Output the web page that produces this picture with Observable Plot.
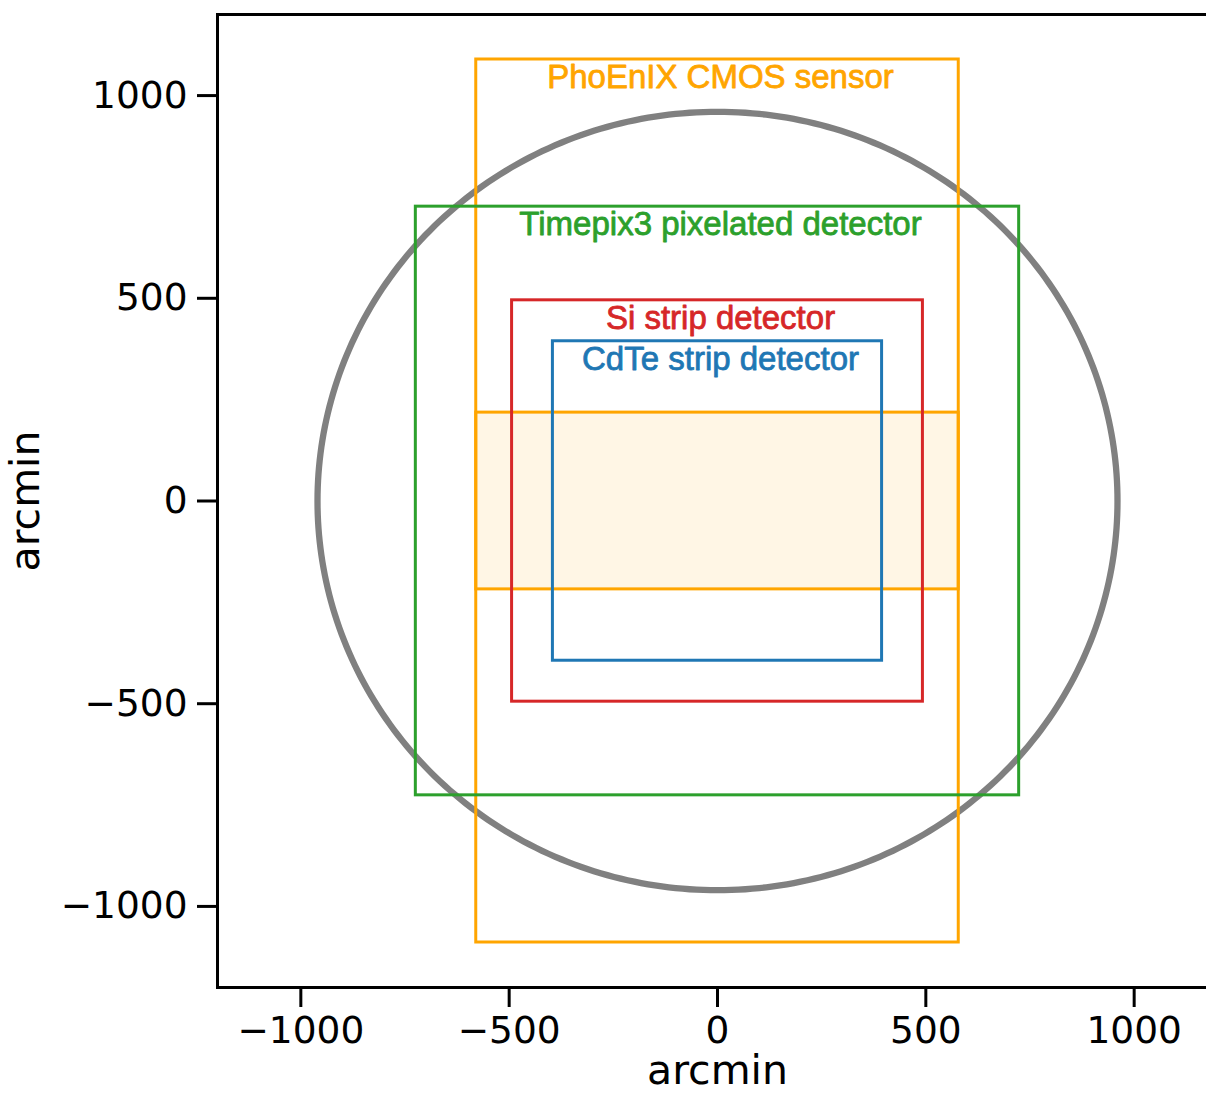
<!DOCTYPE html>
<html>
<head>
<meta charset="utf-8">
<script src="https://cdn.jsdelivr.net/npm/d3@7"></script>
<script src="https://cdn.jsdelivr.net/npm/@observablehq/plot@0.6"></script>
<style>
  html, body { margin: 0; padding: 0; background: white; overflow: hidden; }
</style>
</head>
<body>
<div id="chart"></div>
<script>
// ---- data ----
const xDomain = [-1200, 1200];
const yDomain = [-1200, 1200];
const xTicks = [-1000, -500, 0, 500, 1000];
const yTicks = [-1000, -500, 0, 500, 1000];
const axisLabel = "arcmin";

const sunRadius = 960; // arcmin, grey circle

const detectorNames = ["PhoEnIX CMOS sensor", "Timepix3 pixelated detector", "Si strip detector", "CdTe strip detector"];
const detectorHalfWidth = [579, 724, 493, 395];
const detectorHalfHeight = [1089, 726, 495, 394];
const detectorColors = ["#ffa500", "#2ca02c", "#d62728", "#1f77b4"];

const bandHalfWidth = 579;   // shaded CMOS readout band
const bandHalfHeight = 218;
const bandColor = "#ffa500";

// ---- derived tables ----
const detectors = detectorNames.map((name, i) => ({
  name,
  x1: -detectorHalfWidth[i], x2: detectorHalfWidth[i],
  y1: -detectorHalfHeight[i], y2: detectorHalfHeight[i],
  color: detectorColors[i]
}));
const band = [{x1: -bandHalfWidth, x2: bandHalfWidth, y1: -bandHalfHeight, y2: bandHalfHeight}];
const circle = d3.range(0, 361).map(a => ({
  x: sunRadius * Math.cos(a * Math.PI / 180),
  y: sunRadius * Math.sin(a * Math.PI / 180)
}));

const fmt = d => d < 0 ? "\u2212" + (-d) : String(d);

const chart = Plot.plot({
  width: 1206,
  height: 1094,
  marginLeft: 217,
  marginRight: -11,
  marginTop: 14,
  marginBottom: 107,
  style: {fontFamily: "DejaVu Sans", color: "black", background: "white"},
  x: {domain: xDomain},
  y: {domain: yDomain},
  color: {type: "identity"},
  marks: [
    Plot.line(circle, {x: "x", y: "y", stroke: "#808080", strokeWidth: 6.3}),
    Plot.rect(detectors.slice(0, 1), {x1: "x1", x2: "x2", y1: "y1", y2: "y2", stroke: "color", fill: "none", strokeWidth: 3}),
    Plot.rect(band, {x1: "x1", x2: "x2", y1: "y1", y2: "y2", fill: bandColor, fillOpacity: 0.1, stroke: bandColor, strokeWidth: 3}),
    Plot.rect(detectors.slice(1), {x1: "x1", x2: "x2", y1: "y1", y2: "y2", stroke: "color", fill: "none", strokeWidth: 3}),
    Plot.text(detectors, {
      x: d => (d.x1 + d.x2) / 2, y: "y2", text: "name", fill: "color", stroke: "color", strokeWidth: 0.8,
      dx: 3, dy: 18, lineAnchor: "middle", textAnchor: "middle",
      fontSize: 33, fontFamily: "Liberation Sans, Arial, sans-serif"
    }),
    Plot.frame({stroke: "black", strokeWidth: 3}),
    Plot.axisX(xTicks, {anchor: "bottom", tickSize: 20, tickPadding: 9, strokeWidth: 3, fontSize: 37.5, tickFormat: fmt, label: null}),
    Plot.axisY(yTicks, {anchor: "left", tickSize: 20, tickPadding: 10, strokeWidth: 3, fontSize: 37.5, tickFormat: fmt, label: null}),
    Plot.text([axisLabel], {frameAnchor: "bottom", text: d => d, dy: 96, lineAnchor: "bottom", textAnchor: "middle", fontSize: 41, fill: "black"}),
    Plot.text([axisLabel], {frameAnchor: "left", text: d => d, dx: -179, rotate: -90, lineAnchor: "bottom", textAnchor: "middle", fontSize: 41, fill: "black"})
  ]
});
document.getElementById("chart").appendChild(chart);
</script>
</body>
</html>
